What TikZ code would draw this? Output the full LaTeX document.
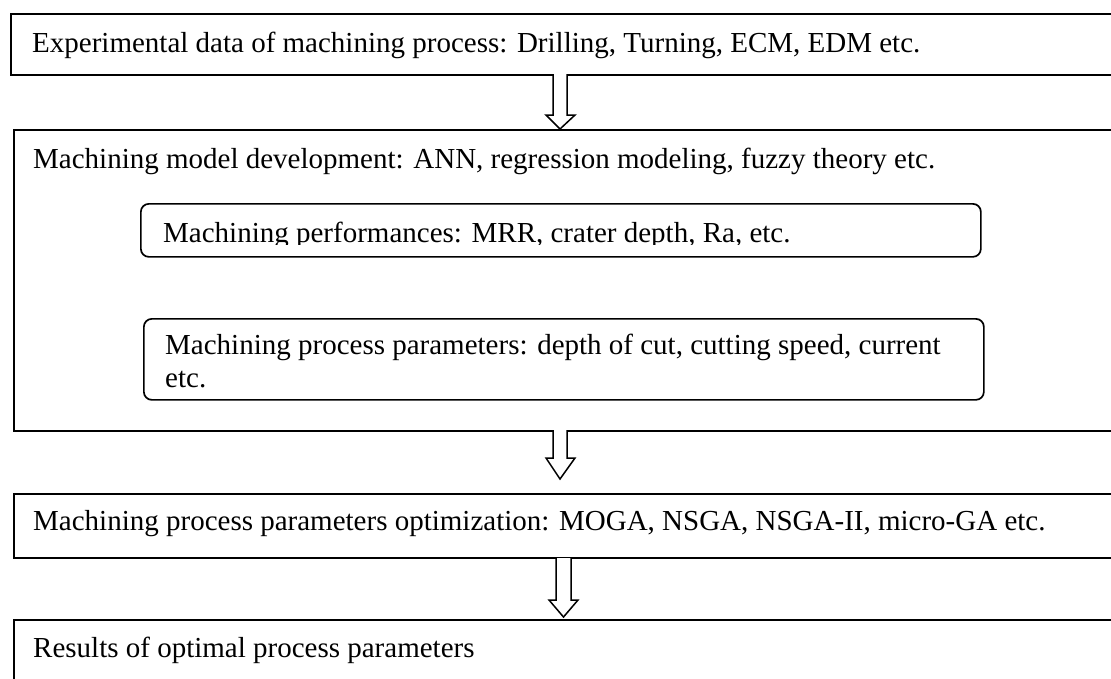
\documentclass[tikz,border=0pt]{standalone}
\usepackage{fontspec}
\setmainfont{Liberation Serif}
\begin{document}
\begin{tikzpicture}[x=1pt,y=-1pt,
  box/.style={draw=black, line width=1.7pt, inner sep=0pt, anchor=north west},
  rbox/.style={box, rounded corners=8pt},
  lbl/.style={anchor=base west, inner sep=0pt, font=\fontsize{29}{33}\selectfont},
  blockarrow/.style={draw=black, line width=1.5pt, fill=white, line join=miter}]
\useasboundingbox (0,0) rectangle (1111,678);
\clip (0,0) rectangle (1111,678);

% outer boxes (they run past the right edge of the picture)
\node[box, minimum width=1120pt, minimum height=61pt]  (b1) at (10,13)  {};
\node[box, minimum width=1120pt, minimum height=301pt] (b2) at (13,129) {};
\node[box, minimum width=1120pt, minimum height=64pt]  (b3) at (13,493) {};
\node[box, minimum width=1120pt, minimum height=120pt] (b4) at (13,619) {};

% rounded inner boxes
\node[rbox, minimum width=840pt, minimum height=53pt] (r1) at (140,203) {};
\node[rbox, minimum width=840pt, minimum height=81pt] (r2) at (143,318) {};

% texts
\node[lbl] (t1) at (32,52) {Experimental data of machining process: Drilling, Turning, ECM, EDM etc.};
\node[lbl] (t2) at (33,168) {Machining model development: ANN, regression modeling, fuzzy theory etc.};
\begin{scope}
  \clip (r1.north west) rectangle ([yshift=13pt]r1.south east);
  \node[lbl] (t3) at (163,242) {Machining performances: MRR, crater depth, Ra, etc.};
\end{scope}
\node[lbl] (t4) at (165,354) {Machining process parameters: depth of cut, cutting speed, current};
\node[lbl] (t5) at (165,387) {etc.};
\node[lbl] (t6) at (33,530) {Machining process parameters optimization: MOGA, NSGA, NSGA-II, micro-GA etc.};
\node[lbl] (t7) at (33,657) {Results of optimal process parameters};

% block arrows
\draw[blockarrow] (553,74) -- (553,115) -- (546,115) -- (560,129) -- (575,115) -- (567,115) -- (567,74);
\draw[blockarrow] (553,430) -- (553,458) -- (546,458) -- (560,479) -- (575,458) -- (567,458) -- (567,430);
\draw[blockarrow] (556,558) -- (556,600) -- (549,600) -- (563.5,617) -- (578,600) -- (571,600) -- (571,558);
\end{tikzpicture}
\end{document}
